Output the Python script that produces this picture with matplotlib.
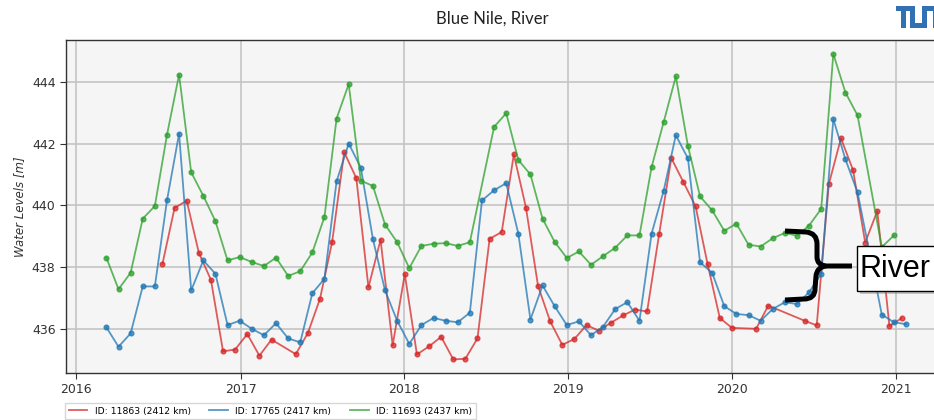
import numpy as np
import matplotlib
matplotlib.use("Agg")
import matplotlib.pyplot as plt
import matplotlib.dates as mdates
from matplotlib.path import Path
from matplotlib.patches import PathPatch, Rectangle
from matplotlib.lines import Line2D
from matplotlib.transforms import Affine2D
import datetime as dt

W, H = 934, 420

# Pass dates of the two stations on the same track (27-day repeat cycle)
dates_track_a = [
    "2016-03-08", "2016-04-04", "2016-05-01", "2016-05-28", "2016-06-24", "2016-07-21",
    "2016-08-17", "2016-09-13", "2016-10-10", "2016-11-06", "2016-12-03", "2016-12-30",
    "2017-01-26", "2017-02-22", "2017-03-21", "2017-04-17", "2017-05-14", "2017-06-10",
    "2017-07-07", "2017-08-03", "2017-08-30", "2017-09-26", "2017-10-23", "2017-11-19",
    "2017-12-16", "2018-01-12", "2018-02-08", "2018-03-07", "2018-04-03", "2018-04-30",
    "2018-05-27", "2018-06-23", "2018-07-20", "2018-08-16", "2018-09-12", "2018-10-09",
    "2018-11-05", "2018-12-02", "2018-12-29", "2019-01-25", "2019-02-21", "2019-03-20",
    "2019-04-16", "2019-05-13", "2019-06-09", "2019-07-06", "2019-08-02", "2019-08-29",
    "2019-09-25", "2019-10-22", "2019-11-18", "2019-12-15", "2020-01-11", "2020-02-07",
    "2020-03-05", "2020-04-01", "2020-04-28", "2020-05-25", "2020-06-21", "2020-07-18",
    "2020-08-14", "2020-09-10", "2020-10-07", "2020-11-03", "2020-11-30", "2020-12-27",
    "2021-01-23",
]

# ID 17765 (2417 km)
level_17765 = [
    436.06, 435.43, 435.86, 437.38, 437.38, 440.16, 442.32, 437.25, 438.22, 437.79, 436.13, 436.27,
    436.01, 435.80, 436.19, 435.70, 435.57, 437.16, 437.63, 440.78, 442.00, 441.22, 438.91, 437.25,
    436.27, 435.52, 436.13, 436.36, 436.27, 436.22, 436.53, 440.16, 440.49, 440.72, 439.09, 436.31,
    437.41, 436.74, 436.13, 436.25, 435.80, 436.08, 436.65, 436.87, 436.27, 439.09, 440.48, 442.27,
    441.52, 438.16, 437.82, 436.74, 436.49, 436.45, 436.27, 436.65, 436.87, 436.81, 437.19, 437.79,
    442.79, 441.49, 440.42, np.nan, 436.47, 436.22, 436.16,
]

# ID 11693 (2437 km)
level_11693 = [
    438.31, 437.29, 437.82, 439.57, 439.98, 442.28, 444.23, 441.07, 440.31, 439.49, 438.22, 438.33,
    438.17, 438.04, 438.31, 437.72, 437.87, 438.48, 439.63, 442.81, 443.92, 440.80, 440.63, 439.38,
    438.81, 437.97, 438.69, 438.76, 438.78, 438.69, 438.81, np.nan, 442.54, 442.98, 441.47, 441.00,
    439.57, 438.82, 438.30, 438.51, 438.08, 438.36, 438.63, 439.03, 439.03, 441.24, 442.70, 444.17,
    441.92, 440.29, 439.84, 439.18, 439.41, 438.73, 438.67, 438.94, 439.11, 439.02, 439.35, 439.89,
    444.90, 443.65, 442.91, np.nan, 438.65, 439.03, np.nan,
]

# ID 11863 (2412 km), neighbouring track
dates_track_b = [
    "2016-07-11", "2016-08-07", "2016-09-03", "2016-09-30", "2016-10-27", "2016-11-23",
    "2016-12-20", "2017-01-16", "2017-02-12", "2017-03-11", "2017-04-07", "2017-05-04",
    "2017-05-31", "2017-06-27", "2017-07-24", "2017-08-20", "2017-09-16", "2017-10-13",
    "2017-11-09", "2017-12-06", "2018-01-02", "2018-01-29", "2018-02-25", "2018-03-24",
    "2018-04-20", "2018-05-17", "2018-06-13", "2018-07-10", "2018-08-06", "2018-09-02",
    "2018-09-29", "2018-10-26", "2018-11-22", "2018-12-19", "2019-01-15", "2019-02-11",
    "2019-03-10", "2019-04-06", "2019-05-03", "2019-05-30", "2019-06-26", "2019-07-23",
    "2019-08-19", "2019-09-15", "2019-10-12", "2019-11-08", "2019-12-05", "2020-01-01",
    "2020-01-28", "2020-02-24", "2020-03-22", "2020-04-18", "2020-05-15", "2020-06-11",
    "2020-07-08", "2020-08-04", "2020-08-31", "2020-09-27", "2020-10-24", "2020-11-20",
    "2020-12-17", "2021-01-13",
]
level_11863 = [
    438.11, 439.92, 440.15, 438.47, 437.59, 435.28, 435.34, 435.84, 435.14, 435.66, np.nan, 435.19,
    435.87, 436.98, 438.81, 441.72, 440.88, 437.35, 438.89, 435.48, 437.78, 435.18, 435.44, 435.75,
    435.02, 435.04, 435.70, 438.92, 439.14, 441.65, 439.93, 437.39, 436.25, 435.49, 435.68, 436.13,
    435.95, 436.20, 436.44, 436.63, 436.57, 439.09, 441.53, 440.75, 439.97, 438.09, 436.36, 436.04,
    np.nan, 436.01, 436.76, np.nan, np.nan, 436.27, 436.12, 440.69, 442.17, 441.14, 438.80, 439.82,
    436.10, 436.35,
]

series = [
    ("ID: 11863 (2412 km)", dates_track_b, level_11863, "tab:red"),
    ("ID: 17765 (2417 km)", dates_track_a, level_17765, "tab:blue"),
    ("ID: 11693 (2437 km)", dates_track_a, level_11693, "tab:green"),
]

fig = plt.figure(figsize=(W / 100, H / 100), dpi=100)
# pixel coordinates with origin at the top-left corner of the figure
pix = Affine2D().scale(1 / W, -1 / H).translate(0, 1) + fig.transFigure

ax_left, ax_right, ax_top, ax_bottom = 66, 950, 40, 373
ax = fig.add_axes([ax_left / W, 1 - ax_bottom / H,
                   (ax_right - ax_left) / W, (ax_bottom - ax_top) / H])
ax.set_facecolor("#f5f5f5")

handles = []
for label, dts, vals, color in series:
    d = np.array([np.datetime64(s) for s in dts])
    v = np.array(vals, dtype=float)
    ok = ~np.isnan(v)
    ax.plot(d[ok], v[ok], color=color, lw=1.3, marker="o", ms=3.4,
            alpha=0.75, zorder=3)
    handles.append(Line2D([], [], color=color, lw=1.3, alpha=0.75, label=label))

ax.set_xlim(dt.date(2015, 12, 9), dt.date(2021, 5, 1))
ax.set_ylim(434.58, 445.35)
ax.set_yticks([436, 438, 440, 442, 444])
ax.xaxis.set_major_locator(mdates.YearLocator())
ax.xaxis.set_major_formatter(mdates.DateFormatter("%Y"))
ax.grid(True, color="#c4c4c4", lw=1.2, zorder=0)
ax.set_axisbelow(True)
ax.tick_params(labelsize=9, length=4, color="#333333", labelcolor="#333333")
for s in ax.spines.values():
    s.set_color("#333333")
    s.set_linewidth(1.0)

ax.set_ylabel("Water Levels [m]", style="italic", fontsize=8.5, color="#333333")
ax.yaxis.set_label_coords((26 - ax_left) / (ax_right - ax_left), 0.5)

fig.legend(handles=handles, loc="upper left", bbox_to_anchor=(65 / W, 1 - 403 / H),
           bbox_transform=fig.transFigure, ncol=3, fontsize=6.7,
           borderaxespad=0, frameon=True, fancybox=False, edgecolor="#cccccc")

fig.text(492.5 / W, 1 - 19 / H, "Blue Nile, River", ha="center", va="center",
         fontsize=12, family="Lato", color="#222222")

# curly brace marking the river stations
brace_top = Path(
    [(785, 231), (806, 232), (817, 233), (817, 244), (817, 257), (817, 265), (826, 266), (852, 266)],
    [Path.MOVETO, Path.LINETO, Path.CURVE3, Path.CURVE3, Path.LINETO, Path.CURVE3, Path.CURVE3, Path.LINETO],
)
brace_bot = Path(
    [(826, 266), (817, 267), (816, 276), (815, 289), (815, 299), (804, 299), (785, 300)],
    [Path.MOVETO, Path.CURVE3, Path.CURVE3, Path.LINETO, Path.CURVE3, Path.CURVE3, Path.LINETO],
)
for p in (brace_top, brace_bot):
    fig.add_artist(PathPatch(p, transform=pix, fill=False, ec="black", lw=3.6,
                             capstyle="butt", joinstyle="round", zorder=10))

# callout box
fig.add_artist(Rectangle((860, 249), 120, 45, transform=pix, fc="#888888",
                         ec="none", alpha=0.45, zorder=10))
fig.add_artist(Rectangle((857, 246), 120, 45, transform=pix, fc="white",
                         ec="black", lw=1.0, zorder=11))
fig.text(860 / W, 1 - 269 / H, "River", ha="left", va="center", fontsize=22,
         family="Liberation Sans", color="black", zorder=12)

# institution logo (T, U and M built from blocks)
tum_blue = "#3070b3"
x0, y0 = 896, 6
blocks = [
    (0, 0, 19, 5),    # T bar
    (5, 0, 5, 22),    # T stem
    (14, 0, 5, 22),   # U left leg
    (14, 17, 17, 5),  # U bottom
    (26, 0, 5, 22),   # U right leg / M left leg
    (26, 0, 26, 5),   # M bar
    (37, 0, 5, 22),   # M middle leg
    (47, 0, 5, 22),   # M right leg
]
for bx, by, bw, bh in blocks:
    fig.add_artist(Rectangle((x0 + bx, y0 + by), bw, bh, transform=pix,
                             fc=tum_blue, ec="none", zorder=10))

fig.savefig("out.png", dpi=100)
